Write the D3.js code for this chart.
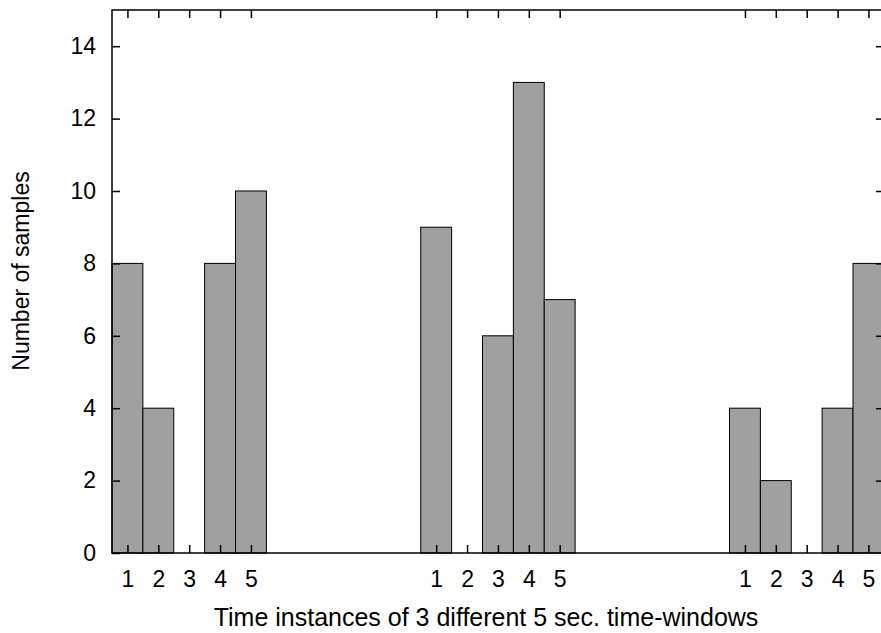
<!DOCTYPE html>
<html>
<head>
<meta charset="utf-8">
<script src="https://cdn.jsdelivr.net/npm/d3@7"></script>
<style>
  body { margin: 0; background: #fff; }
  svg { display: block; font-family: "Liberation Sans", Arial, sans-serif; }
</style>
</head>
<body>
<svg id="chart" width="881" height="633"></svg>
<script>
// ------------------------------------
// Data
// ------------------------------------
const instanceLabels = ["1", "2", "3", "4", "5"];
const windowStarts = [0, 10, 20];        // slot of the first bar in each window
const window1 = [8, 4, 0, 8, 10];
const window2 = [9, 0, 6, 13, 7];
const window3 = [4, 2, 0, 4, 8];
const yTicks = [0, 2, 4, 6, 8, 10, 12, 14];

const bars = [];
[window1, window2, window3].forEach((vals, w) => {
  vals.forEach((v, i) => bars.push({ slot: windowStarts[w] + i, label: instanceLabels[i], value: v }));
});

// ------------------------------------
// Layout
// ------------------------------------
const svg = d3.select("#chart");
const plotLeft = 112, plotTop = 10, plotBottom = 553;
const slotW = 30.875;
const plotRight = plotLeft + 25 * slotW;
const font = "Liberation Sans, Arial, sans-serif";

const x = d3.scaleLinear().domain([-0.5, 24.5]).range([plotLeft, plotRight]);
const y = d3.scaleLinear().domain([0, 15]).range([plotBottom, plotTop]);

// Bars
svg.append("g")
  .selectAll("rect")
  .data(bars.filter(d => d.value > 0))
  .join("rect")
  .attr("x", d => x(d.slot - 0.5))
  .attr("y", d => y(d.value))
  .attr("width", slotW)
  .attr("height", d => y(0) - y(d.value))
  .attr("fill", "#a0a0a0")
  .attr("stroke", "#000")
  .attr("stroke-width", 1);

// Frame
svg.append("rect")
  .attr("x", plotLeft).attr("y", plotTop)
  .attr("width", plotRight - plotLeft).attr("height", plotBottom - plotTop)
  .attr("fill", "none")
  .attr("stroke", "#000")
  .attr("stroke-width", 1.5);

// Y axis (left) with mirrored ticks on the right
const tickLen = 8;
svg.append("g")
  .attr("transform", `translate(${plotLeft},0)`)
  .call(d3.axisLeft(y).tickValues(yTicks).tickSize(-tickLen).tickPadding(16))
  .call(g => g.select(".domain").remove())
  .call(g => g.selectAll("text").attr("font-size", 23).attr("font-family", font).attr("fill", "#000"));

svg.append("g")
  .attr("transform", `translate(${plotRight},0)`)
  .call(d3.axisRight(y).tickValues(yTicks.filter(v => v > 0)).tickSize(-tickLen).tickFormat(""))
  .call(g => g.select(".domain").remove());

// X axis: ticks at each labelled slot, mirrored on the top
const slots = bars.map(d => d.slot);
svg.append("g")
  .attr("transform", `translate(0,${plotBottom})`)
  .call(d3.axisBottom(x).tickValues(slots).tickSize(-tickLen).tickPadding(18)
    .tickFormat((d, i) => bars[i].label))
  .call(g => g.select(".domain").remove())
  .call(g => g.selectAll("text").attr("font-size", 23).attr("font-family", font).attr("fill", "#000"));

svg.append("g")
  .attr("transform", `translate(0,${plotTop})`)
  .call(d3.axisTop(x).tickValues(slots).tickSize(-tickLen).tickFormat(""))
  .call(g => g.select(".domain").remove());

svg.selectAll(".tick line").attr("stroke", "#000").attr("stroke-width", 1.5);

// Axis titles
svg.append("text")
  .attr("x", 486)
  .attr("y", 626)
  .attr("text-anchor", "middle")
  .attr("font-size", 25)
  .text("Time instances of 3 different 5 sec. time-windows");

svg.append("text")
  .attr("transform", "rotate(-90)")
  .attr("x", -271)
  .attr("y", 29)
  .attr("text-anchor", "middle")
  .attr("font-size", 23)
  .text("Number of samples");
</script>
</body>
</html>
